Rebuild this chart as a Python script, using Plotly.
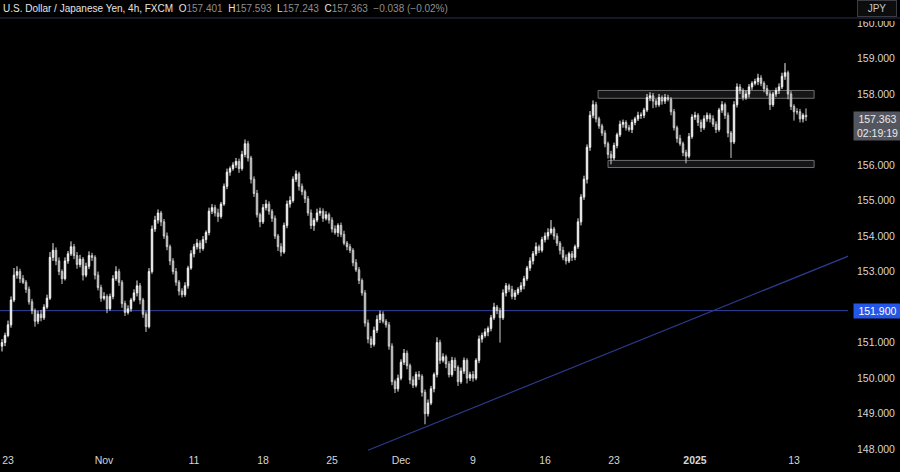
import plotly.graph_objects as go

# ---- data (4h candles, index-based x axis) ----
closes = [
    151.00, 151.20, 151.50, 152.20, 152.90, 153.00, 152.80, 152.70, 152.50, 152.15,
    151.90, 151.60, 151.80, 151.70, 152.00, 152.25, 153.40, 153.60, 153.30, 153.00,
    152.80, 153.30, 153.50, 153.70, 153.45, 153.20, 153.35, 152.90, 153.15, 153.45,
    153.40, 152.90, 152.55, 152.25, 152.30, 151.95, 152.30, 152.80, 153.00, 152.70,
    152.10, 151.85, 151.95, 152.20, 152.40, 152.60, 152.20, 151.80, 151.45, 153.00,
    154.20, 154.45, 154.65, 154.40, 154.00, 153.70, 153.30, 153.00, 152.70, 152.45,
    152.35, 152.60, 153.10, 153.50, 153.70, 153.80, 153.65, 153.90, 154.10, 154.70,
    154.80, 154.65, 154.55, 154.90, 155.40, 155.80, 155.90, 156.00, 156.10, 155.90,
    156.30, 156.60, 156.20, 155.60, 155.20, 154.60, 154.40, 154.80, 154.90, 154.70,
    154.50, 154.00, 153.70, 153.55, 154.30, 154.90, 155.00, 155.60, 155.75, 155.40,
    155.25, 155.05, 154.65, 154.30, 154.45, 154.65, 154.70, 154.50, 154.60, 154.45,
    154.20, 154.10, 154.30, 154.05, 153.80, 153.70, 153.60, 153.25, 153.05, 152.75,
    152.40, 151.55, 151.10, 150.95, 151.35, 151.65, 151.80, 151.60, 151.50, 150.90,
    149.90, 149.70, 150.00, 150.45, 150.70, 150.35, 149.95, 149.80, 150.10, 150.05,
    149.60, 149.00, 149.30, 149.70, 150.10, 151.00, 150.50, 150.60, 150.40, 150.10,
    150.50, 150.30, 149.90, 150.20, 150.50, 150.00, 150.10, 150.00, 150.50, 151.10,
    151.20, 151.30, 151.40, 151.70, 152.00, 151.90, 151.70, 152.40, 152.60, 152.50,
    152.30, 152.40, 152.50, 152.60, 152.80, 153.10, 153.30, 153.50, 153.70, 153.60,
    153.90, 154.00, 154.10, 154.20, 154.00, 153.80, 153.60, 153.40, 153.30, 153.50,
    153.40, 153.70, 154.40, 155.10, 155.60, 156.50, 157.40, 157.70, 157.30, 157.10,
    156.90, 156.60, 156.30, 156.20, 156.55, 156.85, 157.15, 157.20, 157.05, 157.00,
    157.20, 157.30, 157.40, 157.40, 157.55, 157.90, 157.95, 157.80, 157.70, 157.90,
    157.80, 157.90, 157.85, 157.50, 157.05, 156.75, 156.60, 156.35, 156.25, 156.80,
    157.35, 157.40, 157.20, 157.05, 157.30, 157.40, 157.30, 157.15, 157.00, 157.55,
    157.70, 157.40, 156.90, 156.65, 157.70, 158.20, 158.10, 157.90, 158.00, 158.20,
    158.30, 158.35, 158.45, 158.30, 158.15, 158.00, 157.70, 158.00, 158.10, 158.20,
    158.50, 158.60, 158.00, 157.65, 157.50, 157.50, 157.30, 157.401, 157.363,
]
upper_wick = [
    0.10, 0.08, 0.12, 0.10, 0.20, 0.15, 0.08, 0.10, 0.06, 0.08,
    0.08, 0.06, 0.10, 0.12, 0.08, 0.10, 0.15, 0.20, 0.08, 0.10,
    0.06, 0.10, 0.08, 0.15, 0.08, 0.10, 0.12, 0.06, 0.10, 0.12,
    0.08, 0.06, 0.10, 0.08, 0.12, 0.06, 0.08, 0.10, 0.15, 0.08,
    0.06, 0.08, 0.10, 0.06, 0.10, 0.15, 0.08, 0.06, 0.08, 0.10,
    0.10, 0.12, 0.10, 0.06, 0.08, 0.10, 0.06, 0.08, 0.10, 0.06,
    0.08, 0.10, 0.06, 0.10, 0.08, 0.12, 0.08, 0.10, 0.06, 0.10,
    0.10, 0.08, 0.12, 0.06, 0.08, 0.10, 0.06, 0.08, 0.10, 0.08,
    0.10, 0.12, 0.08, 0.06, 0.08, 0.10, 0.06, 0.10, 0.12, 0.08,
    0.06, 0.08, 0.06, 0.10, 0.08, 0.10, 0.12, 0.08, 0.10, 0.06,
    0.08, 0.06, 0.08, 0.10, 0.06, 0.12, 0.10, 0.08, 0.10, 0.06,
    0.08, 0.10, 0.06, 0.08, 0.10, 0.06, 0.08, 0.06, 0.10, 0.08,
    0.06, 0.08, 0.10, 0.08, 0.10, 0.12, 0.10, 0.08, 0.06, 0.08,
    0.08, 0.06, 0.10, 0.08, 0.12, 0.08, 0.06, 0.10, 0.08, 0.10,
    0.06, 0.08, 0.10, 0.08, 0.06, 0.15, 0.08, 0.10, 0.06, 0.08,
    0.10, 0.08, 0.06, 0.10, 0.08, 0.06, 0.08, 0.10, 0.06, 0.10,
    0.08, 0.10, 0.06, 0.08, 0.12, 0.06, 0.08, 0.10, 0.08, 0.06,
    0.10, 0.08, 0.06, 0.10, 0.08, 0.06, 0.10, 0.08, 0.12, 0.06,
    0.08, 0.10, 0.12, 0.25, 0.06, 0.08, 0.06, 0.10, 0.08, 0.06,
    0.08, 0.06, 0.10, 0.08, 0.10, 0.08, 0.12, 0.12, 0.08, 0.06,
    0.06, 0.08, 0.06, 0.10, 0.08, 0.06, 0.10, 0.08, 0.06, 0.08,
    0.08, 0.06, 0.10, 0.08, 0.06, 0.10, 0.10, 0.08, 0.06, 0.10,
    0.06, 0.10, 0.08, 0.06, 0.08, 0.06, 0.10, 0.06, 0.08, 0.10,
    0.08, 0.10, 0.06, 0.08, 0.10, 0.08, 0.06, 0.10, 0.08, 0.06,
    0.10, 0.06, 0.08, 0.06, 0.10, 0.10, 0.08, 0.06, 0.10, 0.08,
    0.06, 0.08, 0.12, 0.08, 0.06, 0.10, 0.08, 0.06, 0.08, 0.10,
    0.10, 0.27, 0.06, 0.08, 0.06, 0.10, 0.08, 0.06, 0.192,
]
lower_wick = [
    0.15, 0.10, 0.05, 0.08, 0.06, 0.10, 0.12, 0.05, 0.10, 0.08,
    0.10, 0.15, 0.08, 0.10, 0.06, 0.05, 0.05, 0.10, 0.12, 0.10,
    0.15, 0.05, 0.08, 0.06, 0.10, 0.12, 0.08, 0.15, 0.06, 0.08,
    0.10, 0.12, 0.08, 0.10, 0.06, 0.12, 0.05, 0.08, 0.06, 0.10,
    0.12, 0.10, 0.06, 0.08, 0.05, 0.10, 0.12, 0.10, 0.15, 0.05,
    0.06, 0.08, 0.10, 0.12, 0.08, 0.10, 0.12, 0.08, 0.10, 0.12,
    0.08, 0.06, 0.08, 0.05, 0.10, 0.08, 0.12, 0.06, 0.10, 0.08,
    0.08, 0.10, 0.15, 0.06, 0.05, 0.08, 0.10, 0.06, 0.08, 0.12,
    0.06, 0.08, 0.10, 0.12, 0.10, 0.08, 0.15, 0.06, 0.08, 0.10,
    0.10, 0.08, 0.12, 0.12, 0.05, 0.08, 0.10, 0.06, 0.08, 0.12,
    0.10, 0.12, 0.08, 0.10, 0.15, 0.06, 0.08, 0.10, 0.06, 0.10,
    0.10, 0.06, 0.12, 0.08, 0.06, 0.10, 0.08, 0.10, 0.06, 0.10,
    0.08, 0.10, 0.12, 0.10, 0.06, 0.08, 0.10, 0.06, 0.08, 0.10,
    0.10, 0.12, 0.08, 0.06, 0.08, 0.10, 0.12, 0.08, 0.06, 0.10,
    0.12, 0.30, 0.08, 0.06, 0.10, 0.08, 0.10, 0.06, 0.12, 0.08,
    0.06, 0.10, 0.12, 0.06, 0.08, 0.15, 0.08, 0.10, 0.06, 0.08,
    0.10, 0.06, 0.12, 0.08, 0.06, 0.10, 0.70, 0.06, 0.10, 0.08,
    0.08, 0.10, 0.06, 0.08, 0.10, 0.06, 0.08, 0.10, 0.06, 0.08,
    0.06, 0.08, 0.10, 0.06, 0.10, 0.08, 0.12, 0.08, 0.10, 0.06,
    0.10, 0.08, 0.06, 0.10, 0.08, 0.12, 0.10, 0.08, 0.10, 0.08,
    0.08, 0.10, 0.12, 0.18, 0.06, 0.08, 0.06, 0.10, 0.08, 0.06,
    0.10, 0.08, 0.06, 0.10, 0.08, 0.06, 0.10, 0.20, 0.08, 0.06,
    0.10, 0.08, 0.06, 0.10, 0.08, 0.12, 0.06, 0.10, 0.20, 0.06,
    0.06, 0.08, 0.10, 0.12, 0.06, 0.08, 0.10, 0.08, 0.10, 0.06,
    0.08, 0.10, 0.12, 0.45, 0.06, 0.08, 0.10, 0.08, 0.06, 0.10,
    0.08, 0.06, 0.10, 0.08, 0.10, 0.06, 0.15, 0.06, 0.08, 0.10,
    0.06, 0.10, 0.15, 0.10, 0.25, 0.08, 0.10, 0.10, 0.12,
]
first_open = 150.90

tick_bars = [2, 34, 64, 87, 110, 133, 157, 181, 204, 231, 264]
tick_labels = ["23", "Nov", "11", "18", "25", "Dec", "9", "16", "23", "<b>2025</b>", "13"]
# 152 and 157 sit under the price labels, so they are left out
price_ticks = [148, 149, 150, 151, 153, 154, 155, 156, 158, 159, 160]

level_price = 151.900
resistance_zone = {"x0": 198.7, "x1": 270.7, "y0": 157.88, "y1": 158.10}
support_zone = {"x0": 202.0, "x1": 270.7, "y0": 155.93, "y1": 156.13}
trend_start = (122.0, 147.97)
trend_end = (284.0, 153.50)

header_name = "U.S. Dollar / Japanese Yen, 4h, FXCM"
header_ohlc = [("O", "157.401"), ("H", "157.593"), ("L", "157.243"), ("C", "157.363")]
header_change = "\u22120.038 (\u22120.02%)"
countdown = "02:19:19"

# ---- build candles ----
opens = [first_open] + closes[:-1]
highs = [max(o, c) + u for o, c, u in zip(opens, closes, upper_wick)]
lows = [min(o, c) - d for o, c, d in zip(opens, closes, lower_wick)]
bars = list(range(len(closes)))

FONT = "Liberation Sans, Arial, sans-serif"

fig = go.Figure()
fig.add_trace(go.Candlestick(
    x=bars, open=opens, high=highs, low=lows, close=closes,
    increasing=dict(fillcolor="#f2f2f2", line=dict(color="#f2f2f2", width=1)),
    decreasing=dict(fillcolor="#8c8c8c", line=dict(color="#d0d0d0", width=1)),
    whiskerwidth=0, showlegend=False, hoverinfo="skip",
))

shapes = []
# black header band covering anything above the pane (cuts the top price label like the reference)
shapes.append(dict(type="rect", xref="paper", yref="paper", x0=-0.01, x1=1.1, y0=0.993, y1=1.1,
                   fillcolor="#000000", line=dict(width=0), layer="above"))
shapes.append(dict(type="line", xref="paper", yref="paper", x0=0, x1=1.07, y0=1.0, y1=1.0,
                   line=dict(color="#1c2035", width=1.5), layer="above"))
# horizontal level
shapes.append(dict(type="line", xref="paper", yref="y", x0=0, x1=1.0, y0=level_price, y1=level_price,
                   line=dict(color="#3443a5", width=1), layer="below"))
# trend line
shapes.append(dict(type="line", xref="x", yref="y", x0=trend_start[0], y0=trend_start[1],
                   x1=trend_end[0], y1=trend_end[1], line=dict(color="#2c3a8e", width=1.2), layer="below"))
# zones
for z in (resistance_zone, support_zone):
    shapes.append(dict(type="rect", xref="x", yref="y", x0=z["x0"], x1=z["x1"], y0=z["y0"], y1=z["y1"],
                       fillcolor="rgba(120,123,134,0.18)", line=dict(color="#6e6e6e", width=1), layer="below"))

annotations = []
hdr = ('<span style="color:#e6e6e6">' + header_name + '</span>')
for k, v in header_ohlc:
    hdr += '\u00a0\u00a0<span style="color:#e6e6e6">' + k + '</span><span style="color:#8f8f8f">' + v + '</span>'
hdr += '\u00a0\u00a0<span style="color:#8f8f8f">' + header_change + '</span>'
annotations.append(dict(xref="paper", yref="paper", x=0, y=1.0, xanchor="left", yanchor="bottom",
                        yshift=2, xshift=1, text=hdr, showarrow=False,
                        font=dict(family=FONT, size=10, color="#e6e6e6")))
# last price label
annotations.append(dict(xref="paper", yref="y", x=1.0, y=closes[-1], xanchor="left", yanchor="top",
                        xshift=5, yshift=6, showarrow=False,
                        text=f"{closes[-1]:.3f}<br>{countdown}", align="center",
                        bgcolor="#53565e", borderpad=1, width=45,
                        font=dict(family=FONT, size=10.5, color="#eaeaea")))
# level label
annotations.append(dict(xref="paper", yref="y", x=1.0, y=level_price, xanchor="left", yanchor="middle",
                        xshift=5, showarrow=False, text=f"{level_price:.3f}",
                        bgcolor="#2457e8", borderpad=1, width=45,
                        font=dict(family=FONT, size=10.5, color="#ffffff")))
# currency button
annotations.append(dict(xref="paper", yref="paper", x=1.0, y=1.0, xanchor="left", yanchor="bottom",
                        xshift=9, yshift=1, showarrow=False, text="JPY",
                        bgcolor="#0d0d0d", bordercolor="#3a3d45", borderwidth=1, borderpad=2, width=34,
                        font=dict(family=FONT, size=10, color="#c8c8c8")))

fig.update_layout(
    width=900, height=472,
    margin=dict(l=0, r=52, t=18, b=20),
    paper_bgcolor="#000000", plot_bgcolor="#000000",
    shapes=shapes, annotations=annotations,
    showlegend=False,
    xaxis=dict(range=[-0.667, 282.0], tickvals=tick_bars, ticktext=tick_labels,
               showgrid=False, zeroline=False, showline=False, ticks="",
               rangeslider=dict(visible=False), fixedrange=True,
               tickfont=dict(family=FONT, size=10.5, color="#d6d6d6")),
    yaxis=dict(side="right", range=[147.92, 160.14], tickvals=price_ticks,
               tickformat=".3f", showgrid=False, zeroline=False, showline=False, ticks="",
               ticklabelstandoff=8, fixedrange=True,
               tickfont=dict(family=FONT, size=10.5, color="#d6d6d6")),
)

fig.write_html("out.html", config={"displayModeBar": False},
               post_script="document.body.style.margin='0';document.body.style.background='#000';")
